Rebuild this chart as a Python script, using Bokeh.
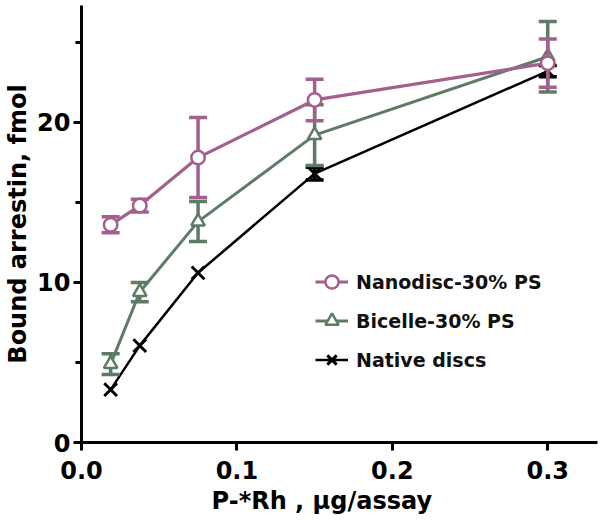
from bokeh.plotting import figure
from bokeh.models import (Range1d, FixedTicker, PrintfTickFormatter, Whisker, TeeHead,
                          ColumnDataSource, Legend, LegendItem, Title)
from bokeh.embed import file_html
from bokeh.resources import INLINE

# ---- data ----
x_vals = [0.01875, 0.0375, 0.075, 0.15, 0.3]
nano_y = [13.6, 14.8, 17.8, 21.4, 23.7]
nano_err = [0.5, 0.4, 2.5, 1.3, 1.5]
bic_y = [4.9, 9.4, 13.8, 19.2, 24.1]
bic_err = [0.65, 0.6, 1.25, 1.9, 2.2]
nat_y = [3.3, 6.05, 10.6, 16.8, 23.2]
nat_err = [0.0, 0.0, 0.0, 0.4, 0.35]
series_names = ["Nanodisc-30% PS", "Bicelle-30% PS", "Native discs"]
x_ticks = [0.0, 0.1, 0.2, 0.3]
y_ticks = [0, 10, 20]
y_minor = [5, 15, 25]
x_title = "P-*Rh , \u00b5g/assay"
y_title = "Bound arrestin, fmol"

PINK = "#a35f8e"
GREEN = "#5e7b66"
BLACK = "#000000"
FONT = "DejaVu Sans"

p = figure(width=599, height=523, output_backend="svg", toolbar_location=None,
           x_range=Range1d(0, 0.332), y_range=Range1d(0, 27.3),
           min_border_top=5, min_border_right=2, min_border_left=81, min_border_bottom=81)
p.outline_line_color = None
p.grid.visible = False
p.background_fill_color = "white"

for ax in (p.xaxis[0], p.yaxis[0]):
    ax.axis_line_width = 3
    ax.major_tick_line_width = 3
    ax.minor_tick_line_width = 3
    ax.major_tick_out = 8
    ax.major_tick_in = 0
    ax.minor_tick_in = 0
    ax.major_label_text_font = FONT
    ax.major_label_text_font_style = "bold"
    ax.major_label_text_font_size = "24px"
    ax.major_label_text_color = "black"
    ax.axis_label_text_font = FONT
    ax.axis_label_text_font_style = "bold"
    ax.axis_label_text_font_size = "24px"
    ax.axis_label_text_color = "black"

p.xaxis[0].ticker = FixedTicker(ticks=x_ticks)
p.xaxis[0].formatter = PrintfTickFormatter(format="%.1f")
p.xaxis[0].minor_tick_out = 0
p.xaxis[0].major_label_standoff = 10

p.yaxis[0].ticker = FixedTicker(ticks=y_ticks, minor_ticks=y_minor)
p.yaxis[0].minor_tick_out = 6
p.yaxis[0].major_label_standoff = 3
p.yaxis[0].axis_label = y_title
p.yaxis[0].axis_label_standoff = 2

# x-axis title placed below the axis, offset to the left like the original
p.add_layout(Title(text=x_title, align="left", offset=130, standoff=6,
                   text_font=FONT, text_font_style="bold", text_font_size="24px",
                   text_color="black"), "below")

specs = [
    (series_names[2], nat_y, nat_err, BLACK, "x", 2.5),
    (series_names[1], bic_y, bic_err, GREEN, "triangle", 3),
    (series_names[0], nano_y, nano_err, PINK, "circle", 3.2),
]
legend_map = {}
for name, ys, errs, col, mk, lw in specs:
    src = ColumnDataSource(dict(x=x_vals, y=ys))
    wx = [xv for xv, e in zip(x_vals, errs) if e > 0]
    wlo = [yv - e for yv, e in zip(ys, errs) if e > 0]
    whi = [yv + e for yv, e in zip(ys, errs) if e > 0]
    wsrc = ColumnDataSource(dict(x=wx, lo=wlo, hi=whi))
    w = Whisker(source=wsrc, base="x", lower="lo", upper="hi", dimension="height",
                line_color=col, line_width=3.5, level="glyph",
                upper_head=TeeHead(size=18, line_width=3.5, line_color=col),
                lower_head=TeeHead(size=18, line_width=3.5, line_color=col))
    p.renderers.append(w)
    ln = p.line("x", "y", source=src, line_color=col, line_width=lw)
    if mk == "x":
        sc = p.scatter("x", "y", source=src, marker="x", size=18, line_color=col, line_width=3)
    else:
        sc = p.scatter("x", "y", source=src, marker=mk, size=13.5, line_color=col,
                       line_width=2.5, fill_color="white")
    legend_map[name] = [ln, sc]

items = [LegendItem(label=name, renderers=legend_map[name]) for name in series_names]

legend = Legend(items=items, location=(234, 66), orientation="vertical",
                label_text_font=FONT, label_text_font_style="bold",
                label_text_font_size="19px", label_text_color="#111111",
                glyph_width=33, glyph_height=33, label_height=33, label_standoff=8,
                spacing=6, padding=0, margin=0,
                border_line_color=None, background_fill_alpha=0)
p.add_layout(legend, "center")

open("out.html", "w").write(file_html(p, INLINE))
